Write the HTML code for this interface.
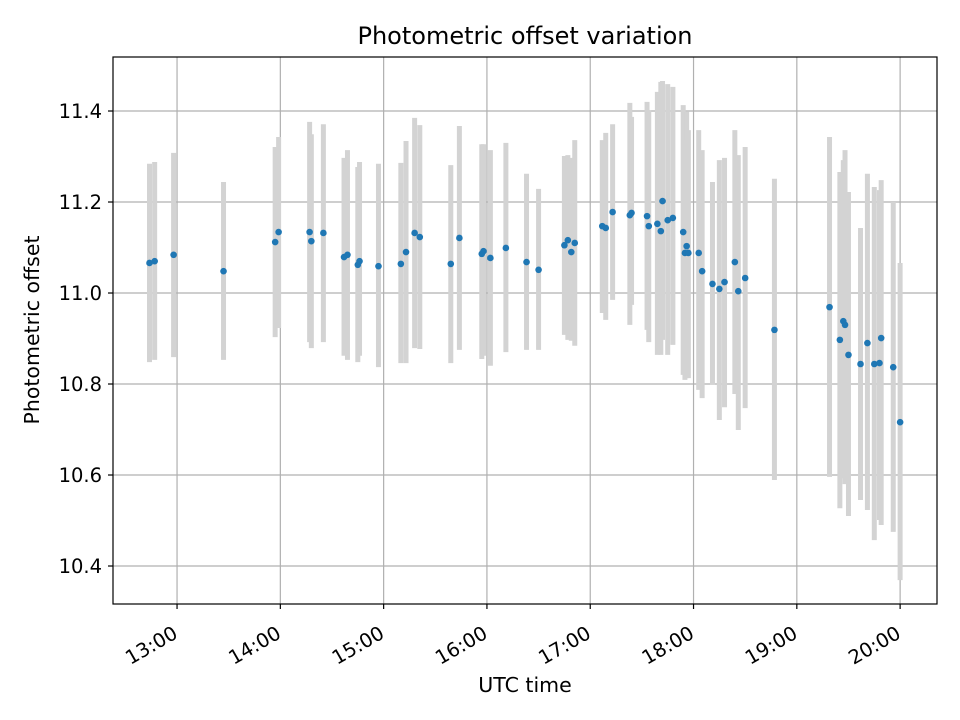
<!DOCTYPE html>
<html><head><meta charset="utf-8"><style>
html,body{margin:0;padding:0;background:#fff}
svg{display:block;font-family:"DejaVu Sans","Liberation Sans",sans-serif}
</style></head><body>
<svg id="chart" width="960" height="720" viewBox="0 0 960 720" xmlns="http://www.w3.org/2000/svg">
<rect width="960" height="720" fill="#fff"/>
<text x="525" y="44" font-size="24" text-anchor="middle" fill="#000">Photometric offset variation</text>
<text x="525" y="692" font-size="20.5" text-anchor="middle" fill="#000">UTC time</text>
<text x="0" y="0" font-size="20.5" text-anchor="middle" fill="#000" transform="translate(39,330) rotate(-90)">Photometric offset</text>
<g id="grid"></g><g id="bars"></g><g id="dots"></g><g id="axes"></g>
</svg>
<script>
const times = ["12:44","12:47","12:58","13:27","13:57","13:59","14:17","14:18","14:25","14:37","14:39","14:45","14:46","14:57","15:10","15:13","15:18","15:21","15:39","15:44","15:57","15:58","16:02","16:11","16:23","16:30","16:45","16:47","16:49","16:51","17:07","17:09","17:13","17:23","17:24","17:33","17:34","17:39","17:41","17:42","17:45","17:48","17:54","17:56","17:55","17:57","18:03","18:05","18:11","18:15","18:18","18:24","18:26","18:30","18:47","19:19","19:25","19:27","19:28","19:30","19:37","19:41","19:45","19:49","19:48","19:56","20:00"];
const offsets = [11.066,11.070,11.084,11.048,11.112,11.134,11.134,11.114,11.132,11.079,11.084,11.062,11.070,11.059,11.064,11.090,11.132,11.123,11.064,11.121,11.086,11.092,11.077,11.099,11.068,11.051,11.105,11.116,11.090,11.110,11.147,11.143,11.178,11.171,11.176,11.169,11.147,11.152,11.136,11.202,11.160,11.165,11.134,11.103,11.088,11.088,11.088,11.048,11.020,11.009,11.024,11.068,11.004,11.033,10.919,10.969,10.897,10.938,10.930,10.864,10.844,10.890,10.844,10.901,10.846,10.837,10.716];
const upper = [11.284,11.288,11.308,11.244,11.321,11.343,11.376,11.349,11.371,11.297,11.314,11.277,11.288,11.284,11.286,11.334,11.385,11.369,11.281,11.367,11.327,11.327,11.314,11.330,11.262,11.229,11.301,11.303,11.297,11.336,11.336,11.352,11.371,11.418,11.387,11.420,11.402,11.442,11.464,11.466,11.459,11.453,11.413,11.398,11.336,11.358,11.358,11.314,11.244,11.292,11.297,11.358,11.303,11.321,11.251,11.343,11.266,11.292,11.314,11.222,11.143,11.262,11.233,11.248,11.226,11.200,11.066];
const lower = [10.848,10.853,10.859,10.853,10.903,10.923,10.892,10.879,10.892,10.862,10.853,10.848,10.862,10.837,10.846,10.846,10.879,10.877,10.846,10.875,10.855,10.862,10.840,10.870,10.875,10.875,10.908,10.897,10.895,10.884,10.956,10.941,10.985,10.930,10.974,10.919,10.892,10.864,10.864,10.897,10.864,10.886,10.820,10.813,10.809,10.813,10.787,10.769,10.798,10.721,10.749,10.778,10.699,10.747,10.589,10.596,10.527,10.593,10.580,10.510,10.545,10.523,10.457,10.490,10.501,10.475,10.369];
const xTickLabels = ["13:00","14:00","15:00","16:00","17:00","18:00","19:00","20:00"];
const yTickLabels = ["10.4","10.6","10.8","11.0","11.2","11.4"];

const L=113,R=937,T=57,B=604;
const xMin=12.380,xMax=20.357,yMin=10.3165,yMax=11.5187;
const NS="http://www.w3.org/2000/svg";
function hrs(s){const p=s.split(":");return +p[0]+(+p[1])/60;}
function xs(h){return L+(h-xMin)/(xMax-xMin)*(R-L);}
function ys(v){return B-(v-yMin)/(yMax-yMin)*(B-T);}
function mk(tag,attrs,parent){const e=document.createElementNS(NS,tag);for(const k in attrs)e.setAttribute(k,attrs[k]);parent.appendChild(e);return e;}
const grid=document.getElementById('grid'),bars=document.getElementById('bars'),dots=document.getElementById('dots'),axes=document.getElementById('axes');

xTickLabels.forEach(lab=>{
  const x=xs(hrs(lab));
  const g=mk('line',{x1:x,x2:x,y1:T,y2:B,stroke:'#b0b0b0','stroke-width':1.2},grid);
  
  
  const t=mk('line',{x1:x,x2:x,y1:B,y2:B+5,stroke:'#000','stroke-width':1.2},axes);
  
  
  const ax=x+2, ay=B+33;
  const tx=mk('text',{x:ax,y:ay,'font-size':19.5,'text-anchor':'end',transform:`rotate(-30 ${ax} ${ay})`},axes);
  tx.textContent=lab;
  
  
});
yTickLabels.forEach(lab=>{
  const y=ys(+lab);
  const g=mk('line',{x1:L,x2:R,y1:y,y2:y,stroke:'#b0b0b0','stroke-width':1.2},grid);
  
  
  const t=mk('line',{x1:L-5,x2:L,y1:y,y2:y,stroke:'#000','stroke-width':1.2},axes);
  
  
  const tx=mk('text',{x:L-11,y:y+7,'font-size':19.5,'text-anchor':'end'},axes);
  tx.textContent=lab;
  
  
});
times.forEach((tm,i)=>{
  const x=xs(hrs(tm));
  const b=mk('line',{x1:x,x2:x,y1:ys(upper[i]),y2:ys(lower[i]),stroke:'#d3d3d3','stroke-width':5},bars);
  
  
});
times.forEach((tm,i)=>{
  const c=mk('circle',{cx:xs(hrs(tm)),cy:ys(offsets[i]),r:3.3,fill:'#1f77b4'},dots);
  
  
});
const fr=mk('rect',{x:L,y:T,width:R-L,height:B-T,fill:'none',stroke:'#000','stroke-width':1.2},axes);


</script>
</body></html>
